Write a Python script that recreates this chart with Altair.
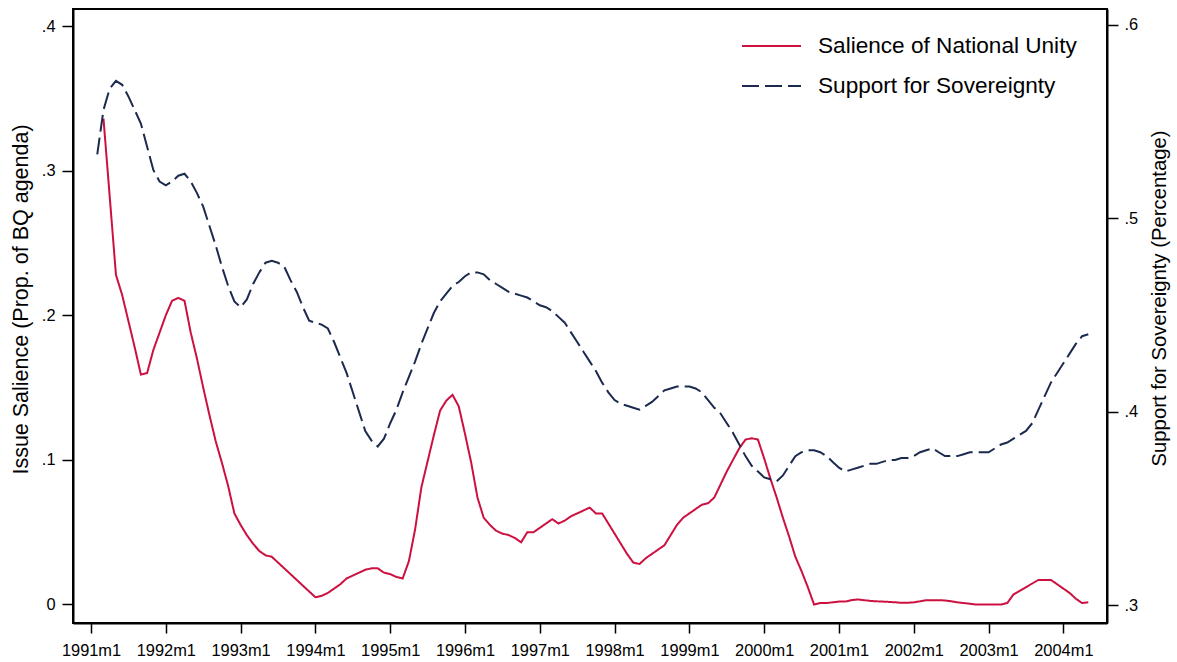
import altair as alt
import pandas as pd

# Month index: 0 = 1991m1, 12 = 1992m1, ...
SAL_START = 2   # salience series begins 1991m3
SUP_START = 1   # sovereignty series begins 1991m2

salience = [
    0.336, 0.282, 0.228, 0.214, 0.196, 0.178, 0.159, 0.160, 0.176, 0.188,
    0.200, 0.210, 0.212, 0.210, 0.188, 0.170, 0.150, 0.131, 0.113, 0.098,
    0.082, 0.063, 0.055, 0.048, 0.042, 0.037, 0.034, 0.033, 0.029, 0.025,
    0.021, 0.017, 0.013, 0.009, 0.005, 0.006, 0.008, 0.011, 0.014, 0.018,
    0.020, 0.022, 0.024, 0.025, 0.025, 0.022, 0.021, 0.019, 0.018, 0.030,
    0.052, 0.081, 0.099, 0.117, 0.134, 0.141, 0.145, 0.137, 0.118, 0.098,
    0.074, 0.060, 0.055, 0.051, 0.049, 0.048, 0.046, 0.043, 0.050, 0.050,
    0.053, 0.056, 0.059, 0.056, 0.058, 0.061, 0.063, 0.065, 0.067, 0.063,
    0.063, 0.056, 0.049, 0.042, 0.035, 0.029, 0.028, 0.032, 0.035, 0.038,
    0.041, 0.048, 0.055, 0.060, 0.063, 0.066, 0.069, 0.070, 0.074, 0.083,
    0.092, 0.100, 0.108, 0.114, 0.115, 0.114, 0.101, 0.087, 0.074, 0.060,
    0.047, 0.033, 0.023, 0.012, 0.000, 0.001, 0.001, 0.0015, 0.002, 0.002,
    0.003, 0.0035, 0.003, 0.0025, 0.0022, 0.002, 0.0018, 0.0015, 0.0012, 0.0012,
    0.0015, 0.0022, 0.003, 0.003, 0.003, 0.0028, 0.0022, 0.0015, 0.001, 0.0005,
    0.000, 0.000, 0.000, 0.000, 0.000, 0.001, 0.007, 0.0095, 0.012, 0.0145,
    0.017, 0.017, 0.017, 0.014, 0.011, 0.008, 0.004, 0.001, 0.0015,
]

support = [
    0.533, 0.556, 0.567, 0.571, 0.569, 0.563, 0.556, 0.549, 0.537, 0.525,
    0.519, 0.517, 0.519, 0.522, 0.523, 0.519, 0.513, 0.506, 0.496, 0.486,
    0.475, 0.465, 0.457, 0.454, 0.458, 0.466, 0.472, 0.477, 0.478, 0.477,
    0.475, 0.468, 0.462, 0.454, 0.447, 0.446, 0.445, 0.443, 0.436, 0.428,
    0.420, 0.410, 0.400, 0.390, 0.385, 0.382, 0.386, 0.394, 0.401, 0.410,
    0.418, 0.426, 0.435, 0.443, 0.451, 0.457, 0.461, 0.465, 0.467, 0.470,
    0.472, 0.472, 0.471, 0.468, 0.466, 0.464, 0.462, 0.461, 0.460, 0.459,
    0.457, 0.455, 0.454, 0.452, 0.449, 0.446, 0.441, 0.436, 0.431, 0.426,
    0.421, 0.415, 0.410, 0.406, 0.404, 0.403, 0.402, 0.401, 0.403, 0.405,
    0.408, 0.411, 0.412, 0.413, 0.413, 0.413, 0.412, 0.410, 0.406, 0.402,
    0.399, 0.394, 0.389, 0.383, 0.377, 0.372, 0.369, 0.366, 0.365, 0.364,
    0.367, 0.372, 0.377, 0.379, 0.380, 0.380, 0.379, 0.377, 0.374, 0.371,
    0.369, 0.370, 0.371, 0.372, 0.373, 0.373, 0.374, 0.375, 0.375, 0.376,
    0.376, 0.377, 0.379, 0.380, 0.381, 0.379, 0.377, 0.377, 0.377, 0.378,
    0.379, 0.379, 0.379, 0.379, 0.381, 0.383, 0.384, 0.386, 0.388, 0.390,
    0.394, 0.401, 0.408, 0.415, 0.420, 0.425, 0.430, 0.435, 0.439, 0.440,
]

series_names = ["Salience of National Unity", "Support for Sovereignty"]
series_colors = ["#cc1040", "#1b2a4e"]
series_dash = [[1, 0], [17, 6]]

year_ticks = list(range(0, 157, 12))
left_ticks = [0, 0.1, 0.2, 0.3, 0.4]
right_ticks = [0.3, 0.4, 0.5, 0.6]

df_sal = pd.DataFrame({
    "month": list(range(SAL_START, SAL_START + len(salience))),
    "value": salience,
    "series": series_names[0],
})
df_sup = pd.DataFrame({
    "month": list(range(SUP_START, SUP_START + len(support))),
    "value": support,
    "series": series_names[1],
})

FONT = "Liberation Sans"

x_enc = alt.X(
    "month:Q",
    scale=alt.Scale(domain=[-2.89, 163.0], nice=False, zero=False),
    axis=alt.Axis(
        values=year_ticks,
        labelExpr="(1991 + datum.value / 12) + 'm1'",
        title=None,
        grid=False,
        domain=True,
        domainColor="black",
        domainWidth=2,
        ticks=True,
        tickSize=10,
        tickWidth=1.5,
        tickColor="black",
        labelFontSize=16.4,
        labelPadding=9,
        labelColor="black",
        labelFont=FONT,
    ),
)


def series_legend():
    return alt.Legend(
        title=None,
        orient="none",
        legendX=668,
        legendY=17,
        direction="vertical",
        symbolType="stroke",
        symbolSize=3481,
        symbolStrokeWidth=2,
        clipHeight=40,
        rowPadding=0,
        labelFontSize=22.6,
        labelFont=FONT,
        labelColor="black",
        labelOffset=16,
        labelLimit=0,
        padding=0,
    )


color_enc = alt.Color(
    "series:N",
    scale=alt.Scale(domain=series_names, range=series_colors),
    legend=series_legend(),
)
dash_enc = alt.StrokeDash(
    "series:N",
    scale=alt.Scale(domain=series_names, range=series_dash),
    legend=series_legend(),
)

salience_line = alt.Chart(df_sal).mark_line(strokeWidth=2).encode(
    x=x_enc,
    y=alt.Y(
        "value:Q",
        scale=alt.Scale(domain=[-0.0128, 0.4118], nice=False, zero=False),
        axis=alt.Axis(
            orient="left",
            values=left_ticks,
            labelExpr="datum.value == 0 ? '0' : replace(format(datum.value, '.1f'), '0.', '.')",
            title="Issue Salience (Prop. of BQ agenda)",
            titleFontSize=21.5,
            titleFontWeight="normal",
            titleFont=FONT,
            titleColor="black",
            titleAngle=270,
            titleAlign="center",
            titleBaseline="middle",
            titleX=-52,
            titleY=290,
            grid=False,
            domainColor="black",
            domainWidth=2,
            tickSize=11,
            tickWidth=1.5,
            tickColor="black",
            labelFontSize=16.4,
            labelPadding=7,
            labelColor="black",
            labelFont=FONT,
        ),
    ),
    color=color_enc,
    strokeDash=dash_enc,
)

support_line = alt.Chart(df_sup).mark_line(strokeWidth=2).encode(
    x=x_enc,
    y=alt.Y(
        "value:Q",
        scale=alt.Scale(domain=[0.2907, 0.6082], nice=False, zero=False),
        axis=alt.Axis(
            orient="right",
            values=right_ticks,
            labelExpr="replace(format(datum.value, '.1f'), '0.', '.')",
            title="Support for Sovereignty (Percentage)",
            titleFontSize=20.3,
            titleFontWeight="normal",
            titleFont=FONT,
            titleColor="black",
            titleAngle=270,
            titleAlign="center",
            titleBaseline="middle",
            titleX=52,
            titleY=289,
            grid=False,
            domainColor="black",
            domainWidth=2,
            tickSize=11,
            tickWidth=1.5,
            tickColor="black",
            labelFontSize=16.4,
            labelPadding=6,
            labelColor="black",
            labelFont=FONT,
        ),
    ),
    color=color_enc,
    strokeDash=dash_enc,
)

chart = (
    alt.layer(salience_line, support_line)
    .resolve_scale(y="independent")
    .properties(
        width=1034,
        height=614,
        autosize=alt.AutoSizeParams(type="none"),
        padding={"left": 73, "top": 9, "right": 70, "bottom": 39},
        background="white",
    )
    .configure_view(stroke="black", strokeWidth=2)
)

chart.save("out.html", embed_options={"renderer": "svg", "actions": False})
